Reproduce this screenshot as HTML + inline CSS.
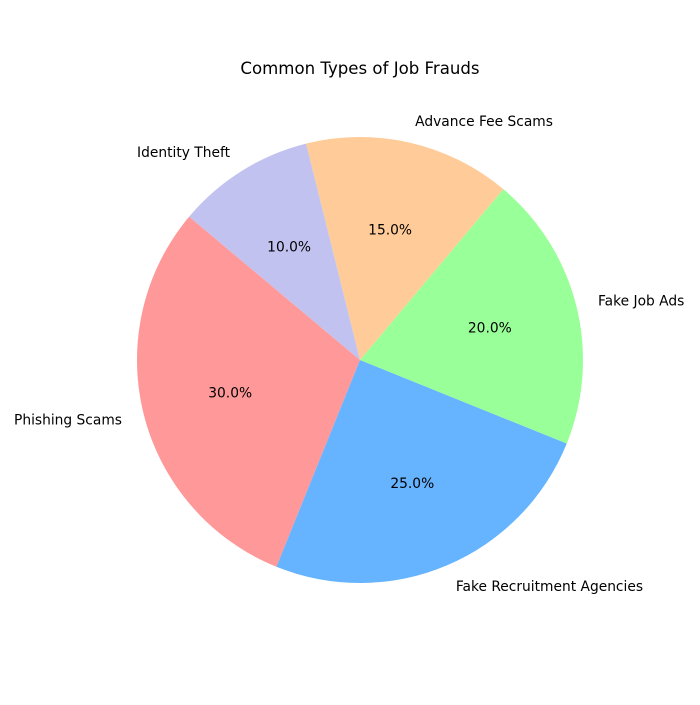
<!DOCTYPE html>
<html><head><meta charset="utf-8"><style>
body{margin:0;background:#fff}
svg text{font-family:"DejaVu Sans","Liberation Sans",sans-serif;fill:#000}
</style></head><body>
<svg id="chart" width="700" height="700">
<rect width="700" height="700" fill="#fff"/>
<text x="360" y="74" font-size="16.6" text-anchor="middle">Common Types of Job Frauds</text>
<g id="slices"></g>
</svg>
<script>
const categories = ["Phishing Scams","Fake Recruitment Agencies","Fake Job Ads","Advance Fee Scams","Identity Theft"];
const values = [30,25,20,15,10];
const colors = ["#ff9999","#66b3ff","#99ff99","#ffcc99","#c2c2f0"];
const cx=360, cy=360, r=223, start=140;
const g=document.getElementById('slices');
const ns="http://www.w3.org/2000/svg";
const total=values.reduce((a,b)=>a+b,0);
let a0=start;
values.forEach((v,i)=>{
  const a1=a0+v/total*360;
  const p=a=>[cx+r*Math.cos(a*Math.PI/180), cy-r*Math.sin(a*Math.PI/180)];
  const [x0,y0]=p(a0),[x1,y1]=p(a1);
  const large=(a1-a0)>180?1:0;
  const path=document.createElementNS(ns,'path');
  path.setAttribute('d',`M${cx},${cy}L${x0},${y0}A${r},${r} 0 ${large} 0 ${x1},${y1}Z`);
  path.setAttribute('fill',colors[i]);
  
  
  g.appendChild(path);
  const am=(a0+a1)/2*Math.PI/180;
  const lx=cx+1.1*r*Math.cos(am), ly=cy-1.1*r*Math.sin(am);
  const t=document.createElementNS(ns,'text');
  t.setAttribute('x',lx); t.setAttribute('y',ly+5);
  t.setAttribute('font-size','13.8');
  t.setAttribute('text-anchor',Math.cos(am)>=0?'start':'end');
  t.textContent=categories[i];
  
  
  g.appendChild(t);
  const px=cx+0.6*r*Math.cos(am), py=cy-0.6*r*Math.sin(am);
  const tp=document.createElementNS(ns,'text');
  tp.setAttribute('x',px); tp.setAttribute('y',py+5);
  tp.setAttribute('font-size','13.8');
  tp.setAttribute('text-anchor','middle');
  tp.textContent=(v/total*100).toFixed(1)+'%';
  
  
  g.appendChild(tp);
  a0=a1;
});
</script>
</body></html>
